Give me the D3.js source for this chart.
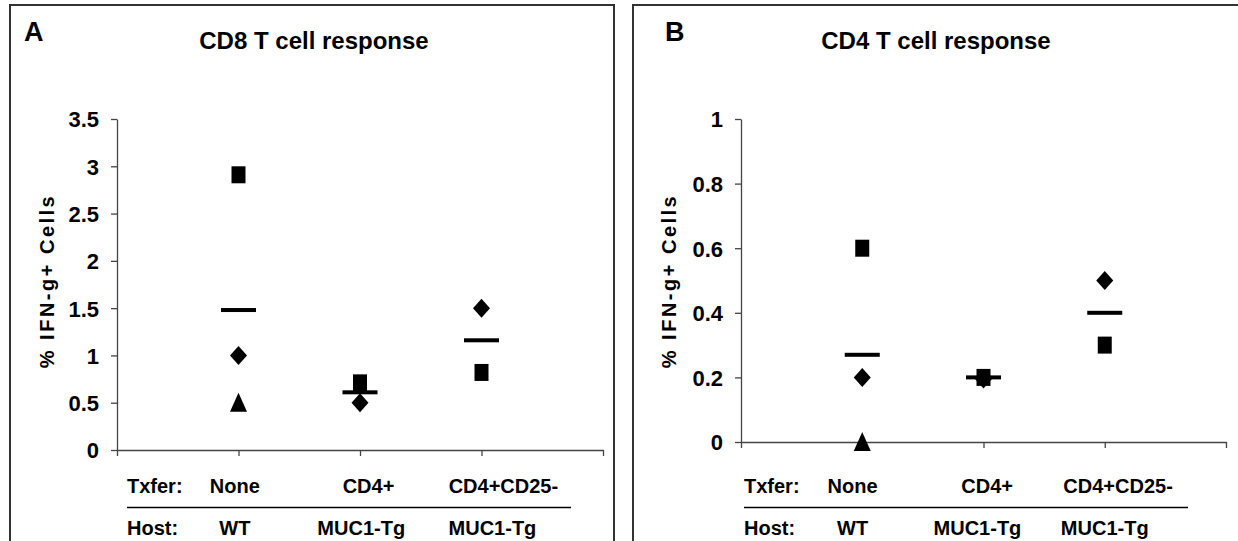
<!DOCTYPE html>
<html>
<head>
<meta charset="utf-8">
<script src="https://cdn.jsdelivr.net/npm/d3@7"></script>
<style>
  body { margin: 0; background: #fff; }
  svg text { font-family: "Liberation Sans", Arial, sans-serif; font-weight: bold; fill: #000; }
</style>
</head>
<body>
<svg id="chart" width="1238" height="541"></svg>
<script>
// categories and row labels
var txfer = ["None", "CD4+", "CD4+CD25-"];
var host = ["WT", "MUC1-Tg", "MUC1-Tg"];

// CD8 panel values (% IFN-g+ cells)
var cd8Square = [2.91, 0.71, 0.82];
var cd8Diamond = [1.0, 0.5, 1.5];
var cd8Triangle = [0.5, null, null];
var cd8Mean = [1.48, 0.61, 1.16];
var cd8Ticks = [0, 0.5, 1, 1.5, 2, 2.5, 3, 3.5];

// CD4 panel values
var cd4Square = [0.6, 0.2, 0.3];
var cd4Diamond = [0.2, 0.195, 0.5];
var cd4Triangle = [0, null, null];
var cd4Mean = [0.27, 0.2, 0.4];
var cd4Ticks = [0, 0.2, 0.4, 0.6, 0.8, 1];

var svg = d3.select("#chart");

// panel layout
var panels = [
	{ letter: "A", title: "CD8 T cell response", frame: [10, 5, 604], x0: 117, x1: 603, yTop: 119, yBot: 450,
	  max: 3.5, ticks: cd8Ticks, sq: cd8Square, di: cd8Diamond, tr: cd8Triangle, mean: cd8Mean,
	  titleX: 314, labelX: 54, rowX: 127, txferAt: [0.97, 2.07, 3.18], hostAt: [0.97, 2.01, 3.09] },
	{ letter: "B", title: "CD4 T cell response", frame: [633, 5, 608], x0: 741, x1: 1226, yTop: 119, yBot: 442,
	  max: 1, ticks: cd4Ticks, sq: cd4Square, di: cd4Diamond, tr: cd4Triangle, mean: cd4Mean,
	  titleX: 936, labelX: 676, rowX: 744, txferAt: [0.92, 2.03, 3.11], hostAt: [0.92, 1.95, 3.0] }
];

panels.forEach(function(p) {
	var g = svg.append("g");

	// frame
	g.append("rect")
		.attr("x", p.frame[0]).attr("y", p.frame[1])
		.attr("width", p.frame[2]).attr("height", 560)
		.attr("fill", "none").attr("stroke", "#333").attr("stroke-width", 2);

	g.append("text").attr("x", p.frame[0] + (p.letter == "A" ? 14 : 32)).attr("y", 41)
		.style("font-size", "27px").text(p.letter);

	g.append("text").attr("x", p.titleX).attr("y", 49).attr("text-anchor", "middle")
		.style("font-size", "24px").text(p.title);

	// scales
	var x = d3.scaleLinear().domain([0, 4]).range([p.x0, p.x1]);
	var y = d3.scaleLinear().domain([0, p.max]).range([p.yBot, p.yTop]);

	// y axis
	var ya = g.append("g").attr("transform", "translate(" + p.x0 + ",0)")
		.call(d3.axisLeft(y).tickValues(p.ticks).tickSize(6).tickSizeOuter(0).tickPadding(12)
			.tickFormat(function(d) { return String(d); }));
	ya.selectAll("text").style("font-size", "22px").attr("dy", "0.36em");

	// x axis (ticks at the category boundaries 0..4)
	var xa = g.append("g").attr("transform", "translate(0," + p.yBot + ")")
		.call(d3.axisBottom(x).tickValues([0, 1, 2, 3, 4]).tickSize(6).tickSizeOuter(0).tickFormat(""));

	[ya, xa].forEach(function(a) {
		a.select(".domain").attr("stroke", "#444").attr("stroke-width", 1.3);
		a.selectAll(".tick line").attr("stroke", "#444").attr("stroke-width", 1.3);
	});

	// y label
	g.append("text")
		.attr("transform", "translate(" + p.labelX + ",281) rotate(-90)")
		.attr("text-anchor", "middle")
		.style("font-size", "20px").style("letter-spacing", "2.5px")
		.text("% IFN-g+ Cells");

	// markers
	var cats = [1, 2, 3];
	var diamond = "M0,-9.5L8.5,0L0,9.5L-8.5,0Z";
	var square = "M-7,-8.5H7V8.5H-7Z";
	var triangle = "M0,-10L8.5,9H-8.5Z";

	function drawMarks(vals, path) {
		g.selectAll(null).data(vals.map(function(v, i) { return { v: v, c: cats[i] }; })
				.filter(function(d) { return d.v != null; }))
			.enter().append("path")
			.attr("d", path)
			.attr("transform", function(d) { return "translate(" + x(d.c) + "," + y(d.v) + ")"; })
			.attr("fill", "#000");
	}
	drawMarks(p.di, diamond);
	drawMarks(p.sq, square);
	drawMarks(p.tr, triangle);

	g.selectAll(null).data(p.mean).enter().append("rect")
		.attr("x", function(d, i) { return x(cats[i]) - 17.5; })
		.attr("y", function(d) { return y(d) - 2; })
		.attr("width", 35).attr("height", 4)
		.attr("fill", "#000");

	// Txfer / Host rows
	g.append("text").attr("x", p.rowX).attr("y", 493).style("font-size", "20px").text("Txfer:");
	g.append("text").attr("x", p.rowX).attr("y", 535).style("font-size", "20px").text("Host:");
	g.append("line").attr("x1", p.rowX).attr("x2", p.rowX + 444)
		.attr("y1", 507.5).attr("y2", 507.5).attr("stroke", "#000").attr("stroke-width", 1.5);

	g.selectAll(null).data(txfer).enter().append("text")
		.attr("x", function(d, i) { return x(p.txferAt[i]); }).attr("y", 493)
		.attr("text-anchor", "middle").style("font-size", "20px").text(function(d) { return d; });
	g.selectAll(null).data(host).enter().append("text")
		.attr("x", function(d, i) { return x(p.hostAt[i]); }).attr("y", 535)
		.attr("text-anchor", "middle").style("font-size", "20px").text(function(d) { return d; });
});
</script>
</body>
</html>
